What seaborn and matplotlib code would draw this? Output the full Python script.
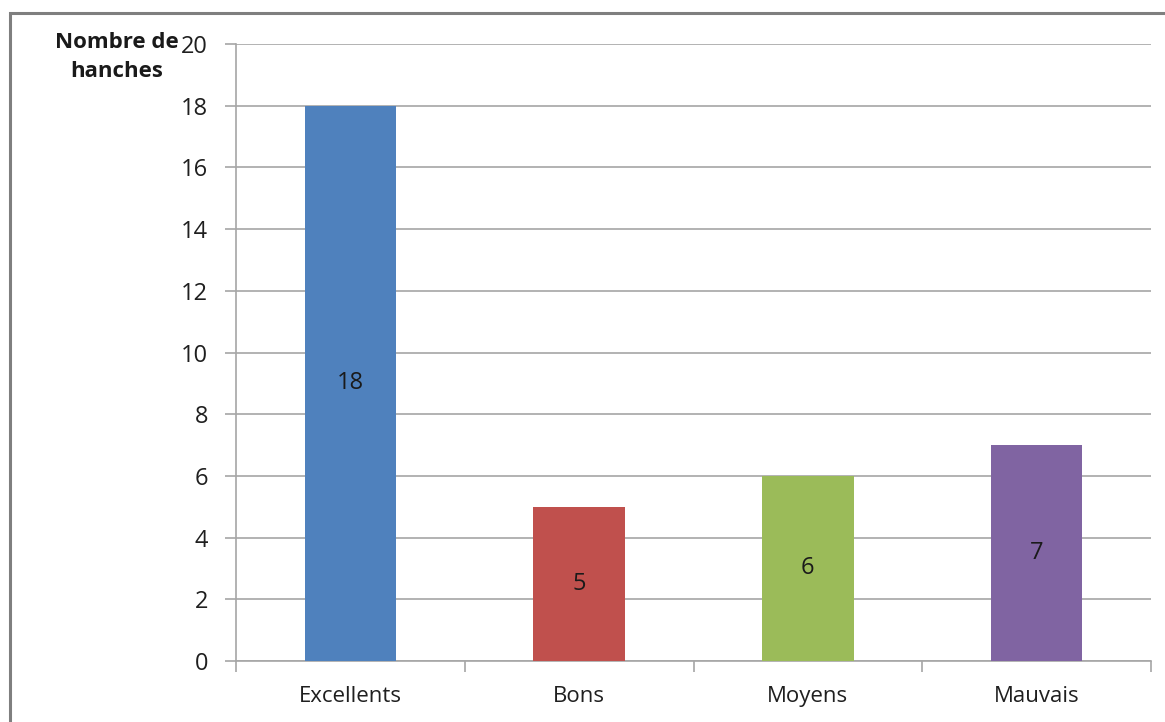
import matplotlib
matplotlib.use("Agg")
import matplotlib.pyplot as plt
from matplotlib.patches import Rectangle
import seaborn as sns
import pandas as pd

categories = ["Excellents", "Bons", "Moyens", "Mauvais"]
counts = [18, 5, 6, 7]
bar_colors = ["#4F81BD", "#C0504D", "#9BBB59", "#8064A2"]
y_ticks = [0, 2, 4, 6, 8, 10, 12, 14, 16, 18, 20]
y_title = "Nombre de\nhanches"

sns.set_theme(style="white")
plt.rcParams["font.family"] = ["Open Sans", "DejaVu Sans"]

df = pd.DataFrame({"categorie": categories, "hanches": counts})

W, H, DPI = 1165, 722, 100
fig = plt.figure(figsize=(W / DPI, H / DPI), dpi=DPI)
ax = fig.add_axes([236 / W, 1 - 661 / H, (1151 - 236) / W, (661 - 44) / H])

sns.barplot(data=df, x="categorie", y="hanches", hue="categorie",
            palette=bar_colors, width=0.4, saturation=1, legend=False,
            linewidth=0, ax=ax, zorder=3)

ax.set_xlim(-0.5, len(categories) - 0.5)
ax.set_ylim(0, 20)
ax.set_yticks(y_ticks)
ax.yaxis.grid(True, color="#A6A6A6", linewidth=1.2, zorder=0)
ax.xaxis.grid(False)
ax.set_axisbelow(True)
ax.set_xlabel("")
ax.set_ylabel("")

for side in ["top", "right"]:
    ax.spines[side].set_visible(False)
for side in ["left", "bottom"]:
    ax.spines[side].set_color("#A6A6A6")
    ax.spines[side].set_linewidth(1.2)

# category labels centered, ticks at the category boundaries
ax.set_xticks(range(len(categories)))
ax.set_xticklabels(categories)
ax.tick_params(axis="x", which="major", length=0, pad=18,
               labelsize=16, labelcolor="#1F1F1F")
ax.set_xticks([i - 0.5 for i in range(len(categories) + 1)], minor=True)
ax.tick_params(axis="x", which="minor", length=8, width=1.2,
               color="#A6A6A6", direction="out", bottom=True)
ax.tick_params(axis="y", length=8, width=1.2, color="#A6A6A6",
               direction="out", left=True, pad=12,
               labelsize=17, labelcolor="#1F1F1F")

# value labels at the middle of each bar
for i, v in enumerate(counts):
    ax.text(i, v / 2, str(v), ha="center", va="center",
            fontsize=17, color="#1A1A1A", zorder=4)

fig.text(117 / W, 1 - 57 / H, y_title, ha="center", va="center",
         fontsize=16, fontweight="bold", color="#1A1A1A", linespacing=1.5)

# outer chart frame
fig.patches.append(Rectangle((10 / W, -0.1), 1.2, 1 - 13 / H + 0.1,
                             transform=fig.transFigure, fill=False,
                             edgecolor="#7F7F7F", linewidth=2.2))

fig.savefig("out.png", dpi=DPI)
